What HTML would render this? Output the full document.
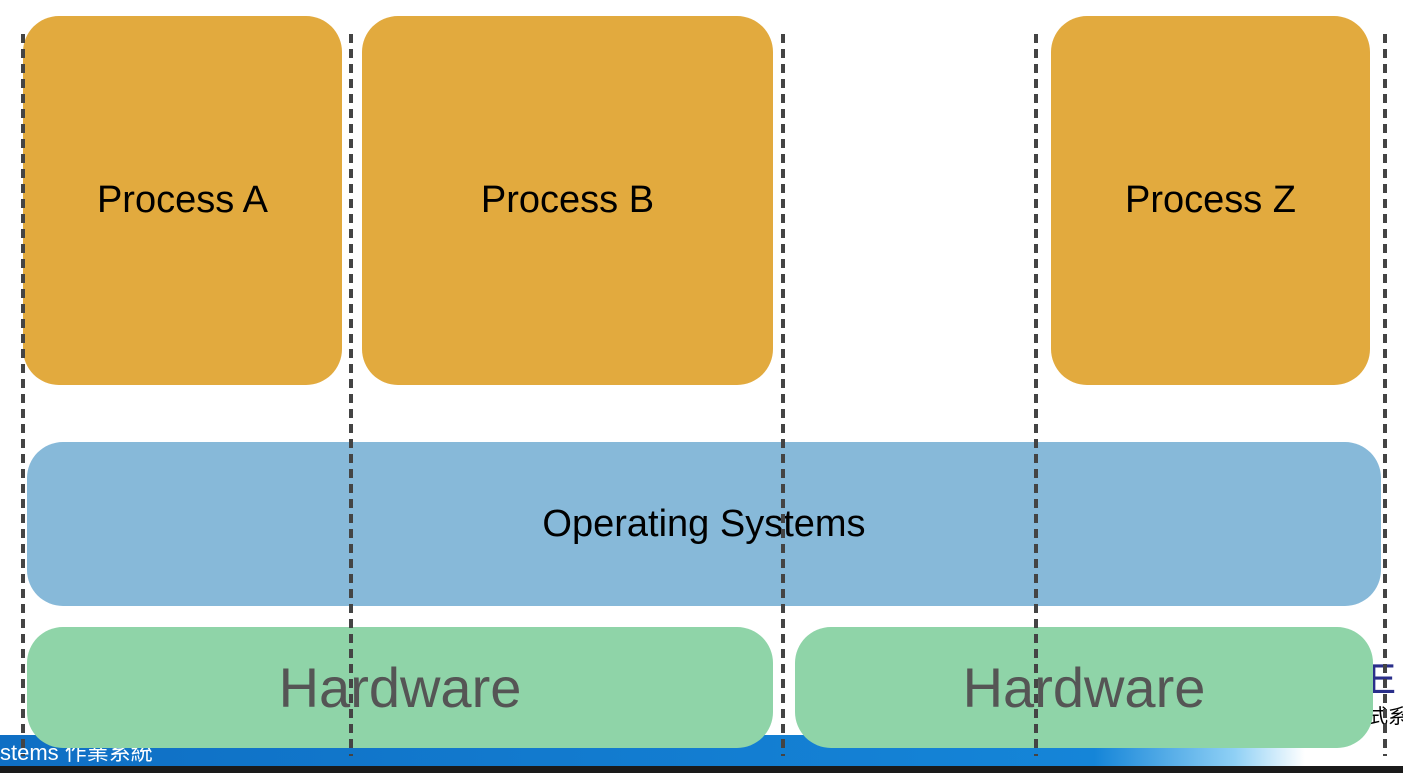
<!DOCTYPE html>
<html><head><style>
body{margin:0;width:1403px;height:773px;position:relative;overflow:hidden;background:#fff;font-family:"Liberation Sans","Noto Sans CJK TC",sans-serif}
.b{position:absolute;display:flex;align-items:center;justify-content:center;border-radius:36px}
.p{background:#e2aa3e;font-size:38px;color:#000}
.d{position:absolute;top:34px;height:722px;width:4px;background:repeating-linear-gradient(180deg,#444 0 9px,transparent 9px 15px);}
.t{position:absolute;white-space:nowrap}
</style></head><body>
<div style="position:absolute;left:0;top:735px;width:1403px;height:31px;background:linear-gradient(90deg,#0f6fc4 0%,#1585d8 78%,#8fd0f5 88%,#fff 93%)"></div>
<div class="t" style="left:0;top:735px;color:#fff;font-size:22px">stems 作業系統</div>
<div class="t" style="left:1368px;top:655px;color:#2a2f8a;font-size:42px">E W</div>
<div class="t" style="left:1368px;top:700px;color:#000;font-size:20px">式系</div>
<div style="position:absolute;left:0;top:766px;width:1403px;height:7px;background:#1a1a1a"></div>
<div class="b p" style="left:23px;top:16px;width:319px;height:369px">Process A</div>
<div class="b p" style="left:362px;top:16px;width:411px;height:369px">Process B</div>
<div class="b p" style="left:1051px;top:16px;width:319px;height:369px">Process Z</div>
<div class="b" style="left:27px;top:442px;width:1354px;height:164px;background:#87b9d9;font-size:38px">Operating Systems</div>
<div class="b" style="left:27px;top:627px;width:746px;height:121px;background:#8fd4a8;font-size:56px;color:#555">Hardware</div>
<div class="b" style="left:795px;top:627px;width:578px;height:121px;background:#8fd4a8;font-size:56px;color:#555">Hardware</div>
<div class="d" style="left:21px"></div>
<div class="d" style="left:349px"></div>
<div class="d" style="left:781px"></div>
<div class="d" style="left:1034px"></div>
<div class="d" style="left:1383px"></div>
</body></html>
